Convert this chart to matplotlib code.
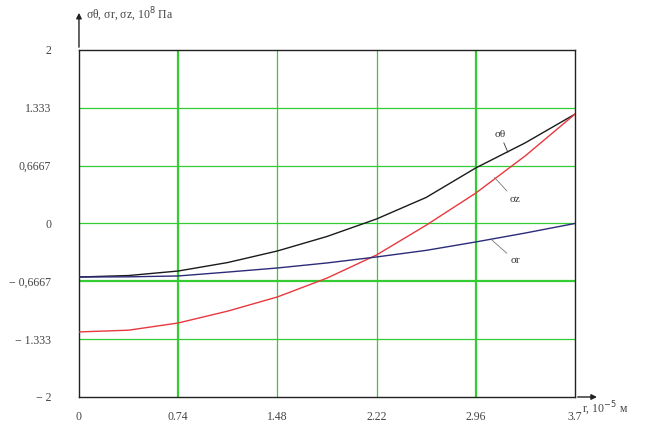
import matplotlib
matplotlib.use("Agg")
import matplotlib.pyplot as plt

# radius, 10^-5 m
r = [0, 0.37, 0.74, 1.11, 1.48, 1.85, 2.22, 2.59, 2.96, 3.33, 3.7]
# stresses, 10^8 Pa
sigma_theta = [-0.617, -0.60, -0.548, -0.45, -0.317, -0.15, 0.052, 0.30, 0.64, 0.93, 1.26]
sigma_z = [-1.25, -1.23, -1.147, -1.01, -0.847, -0.63, -0.363, -0.02, 0.35, 0.78, 1.26]
sigma_r = [-0.617, -0.615, -0.605, -0.56, -0.513, -0.455, -0.386, -0.31, -0.213, -0.11, 0.0]

x_ticks = [0, 0.74, 1.48, 2.22, 2.96, 3.7]
x_labels = ["0", "0.74", "1.48", "2.22", "2.96", "3.7"]
y_ticks = [-2, -1.333, -0.6667, 0, 0.6667, 1.333, 2]
y_labels = ["\u2212 2", "\u2212 1.333", "\u2212 0,6667", "0", "0,6667", "1.333", "2"]

plt.rcParams['font.family'] = ['Liberation Serif', 'DejaVu Serif']

fig = plt.figure(figsize=(6.5, 4.26), dpi=100)
ax = fig.add_axes([0.1215, 0.0681, 0.763, 0.8146])
ax.set_xlim(0, 3.7)
ax.set_ylim(-2, 2)

# green grid
for xv in x_ticks[1:-1]:
    lw = 1.6 if xv in (0.74, 2.96) else 0.9
    ax.axvline(xv, color="#33cc33", lw=lw, zorder=1)
for yv in y_ticks[1:-1]:
    lw = 1.6 if yv == -0.6667 else 0.9
    ax.axhline(yv, color="#33cc33", lw=lw, zorder=1)

ax.plot(r, sigma_theta, color="#1a1a1a", lw=1.0, zorder=3)
ax.plot(r, sigma_z, color="#e8383e", lw=1.0, zorder=3)
ax.plot(r, sigma_r, color="#2b2b7a", lw=1.0, zorder=3)

# curve labels with leader lines
lead = dict(arrowstyle="-", lw=0.6, shrinkA=1, shrinkB=0)
ax.annotate("\u03c3\u03b8", xy=(3.2, 0.82), xytext=(3.1, 1.0), fontsize=8,
            color="#333333", arrowprops=dict(lead, color="#333333"))
ax.annotate("\u03c3z", xy=(3.10, 0.53), xytext=(3.21, 0.25), fontsize=8,
            color="#333333", arrowprops=dict(lead, color="#777777"))
ax.annotate("\u03c3r", xy=(3.08, -0.19), xytext=(3.22, -0.46), fontsize=8,
            color="#333333", arrowprops=dict(lead, color="#777777"))

for s in ax.spines.values():
    s.set_color("#222222")
    s.set_linewidth(1.0)

ax.set_xticks(x_ticks)
ax.set_xticklabels(x_labels)
ax.set_yticks(y_ticks)
ax.set_yticklabels(y_labels)
ax.tick_params(length=0, labelsize=8.5, colors="#444444", pad=10)
ax.tick_params(axis="y", pad=20)

# axis arrows
ax.annotate("", xy=(0, 1.115), xytext=(0, 1.0), xycoords="axes fraction",
            arrowprops=dict(arrowstyle="-|>", color="#222222", lw=1.0, mutation_scale=8))
ax.annotate("", xy=(1.05, 0), xytext=(1.0, 0), xycoords="axes fraction",
            arrowprops=dict(arrowstyle="-|>", color="#222222", lw=1.0, mutation_scale=8))

fig.text(0.133, 0.955, "\u03c3\u03b8, \u03c3r, \u03c3z, 10$^{8}$ \u041f\u0430", fontsize=8.5, color="#444444")
fig.text(0.895, 0.03, "r, 10$^{-5}$ \u043c", fontsize=8.5, color="#444444")

fig.savefig("out.png", dpi=100)
